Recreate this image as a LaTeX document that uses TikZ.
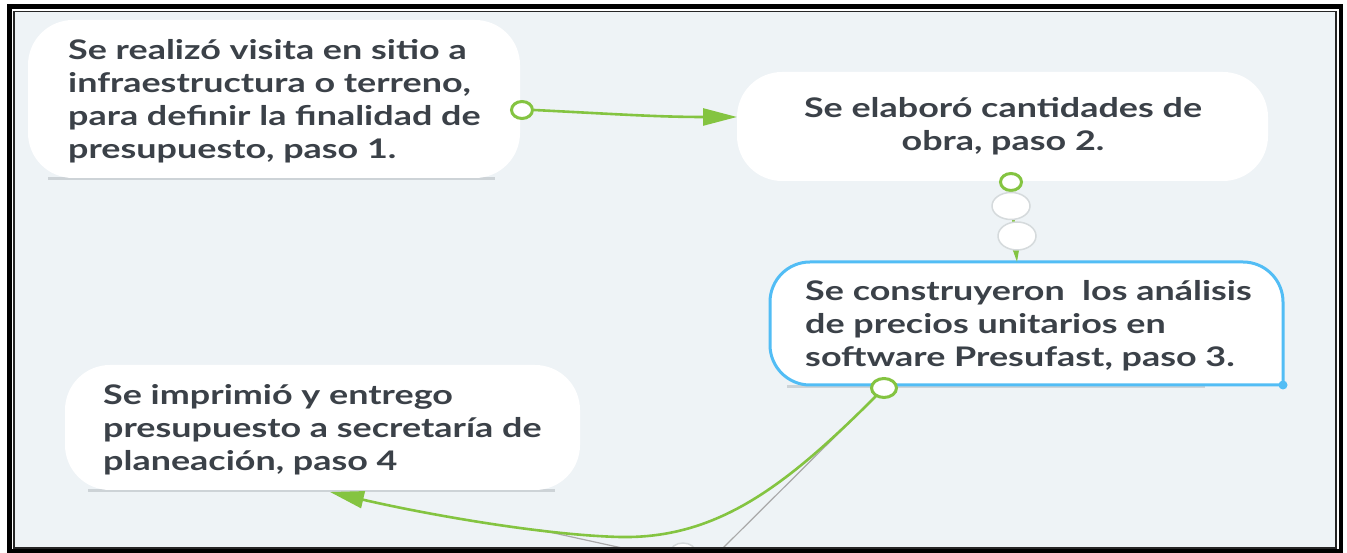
\documentclass[tikz,border=0pt]{standalone}
\usepackage{fontspec}
\setmainfont{Lato}[FakeStretch=1.33]
\usetikzlibrary{arrows.meta,shapes.geometric}
\definecolor{bgc}{HTML}{EEF3F6}
\definecolor{txtc}{HTML}{3B4148}
\definecolor{grn}{HTML}{84C441}
\definecolor{blu}{HTML}{52BDF5}
\definecolor{ulc}{HTML}{CDD3D7}
\definecolor{wcb}{HTML}{D5DADC}
\definecolor{gln}{HTML}{A9A9A9}
\tikzset{
  box/.style={draw=none, fill=white, rounded corners=45pt, inner sep=0pt, outer sep=0pt},
  bare/.style={draw=none, inner sep=0pt, outer sep=0pt},
  txt/.style={text=txtc, inner sep=0pt, font=\fontsize{27}{33}\selectfont\bfseries},
  uline/.style={draw=ulc, line width=3pt},
  port/.style={ellipse, draw=grn, fill=white, line width=3pt, inner sep=0pt, minimum width=21pt, minimum height=17pt},
  wcirc/.style={ellipse, draw=wcb, fill=white, line width=1.5pt, inner sep=0pt},
  garrow/.style={draw=grn, line width=2.6pt, -{Triangle[length=34pt,width=17pt]}},
  gline/.style={draw=gln, line width=1.2pt}
}
\begin{document}
\begin{tikzpicture}[x=1pt,y=1pt]
\useasboundingbox (0,0) rectangle (1347,553);
\fill[white] (0,0) rectangle (1347,553);
\fill[bgc] (14,5) rectangle (1336,541.5);
\coordinate (p3pos) at (884,165);

% background remnants
\begin{scope}
\clip (14,5) rectangle (1336,541.5);
\coordinate (g1end) at (718,0);
\coordinate (g2a) at (540,23);
\coordinate (g2b) at (645,0);
\draw[gline] (p3pos) -- (g1end);
\draw[gline] (g2a) -- (g2b);
\node[wcirc, minimum width=26pt, minimum height=20pt] (w3) at (683,0) {};
\end{scope}

% underlines
\draw[uline] (48,374) -- (495,374);
\draw[uline] (787,166) -- (1205,166);
\draw[uline] (88,62) -- (555,62);

% boxes
\node[box, minimum width=492pt, minimum height=158pt] (n1) at (274,454) {};
\node[box, minimum width=531pt, minimum height=109pt] (n2) at (1002.5,426.5) {};
\node[bare, minimum width=513pt, minimum height=123pt] (n3) at (1026.5,229.5) {};
\node[box, minimum width=515pt, minimum height=125pt] (n4) at (322.5,125.5) {};
\draw[draw=blu, fill=white, line width=3pt, line join=round]
  (n3.south east) -- ([yshift=-40pt]n3.north east)
  arc[start angle=0, end angle=90, radius=40pt]
  -- ([xshift=40pt]n3.north west)
  arc[start angle=90, end angle=180, radius=40pt]
  -- ([yshift=40pt]n3.south west)
  arc[start angle=180, end angle=270, radius=40pt]
  -- cycle;
\fill[blu] (n3.south east) circle (4.5pt);

% ports
\node[port] (p1) at (522,443) {};
\node[port] (p2) at (1011,371) {};

% connectors
\draw[garrow] (p1.east) .. controls +(80,-4) and +(-80,0) .. ([yshift=9.5pt]n2.west);
\draw[garrow] (p2.south) -- (1017,0 |- n3.north);
\node[wcirc, minimum width=38pt, minimum height=27pt] (w1) at (1011,347) {};
\node[wcirc, minimum width=38pt, minimum height=28pt] (w2) at (1017,317) {};
\draw[garrow] (p3pos) .. controls (790,70) and (720,14) .. (620,16)
   .. controls (540,18) and (420,40) .. ([xshift=7.5pt,yshift=-2pt]n4.south);
\node[port, minimum width=25pt, minimum height=19pt] (p3) at (p3pos) {};

% texts
\node[txt, anchor=west, align=left] (t1) at (68,452)
  {Se realizó visita en sitio a\\infraestructura o terreno,\\para definir la finalidad de\\presupuesto, paso 1.};
\node[txt, align=center] (t2) at (1003,426.5)
  {Se elaboró cantidades de\\obra, paso 2.};
\node[txt, anchor=west, align=left] (t3) at (805,227.5)
  {Se construyeron \ los análisis\\de precios unitarios en\\software Presufast, paso 3.};
\node[txt, anchor=west, align=left] (t4) at (103,123.5)
  {Se imprimió y entrego\\presupuesto a secretaría de\\planeación, paso 4};

% frame
\draw[line width=1.5pt, black!85] (14,5) rectangle (1336,541.5);
\draw[line width=4.5pt, black] (9.5,546.5) rectangle (1341,2);
\end{tikzpicture}
\end{document}
